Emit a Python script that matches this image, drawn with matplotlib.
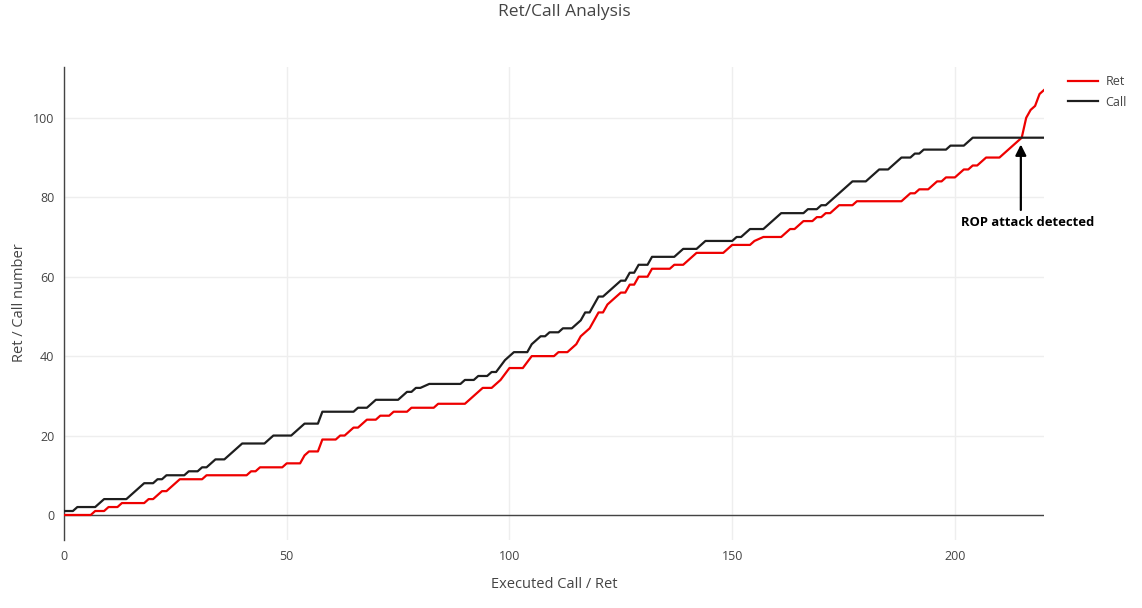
import matplotlib
matplotlib.use('Agg')
import matplotlib.pyplot as plt
from matplotlib.lines import Line2D

plt.rcParams['font.family'] = ['Open Sans', 'DejaVu Sans']

# ---- data (breakpoints of each series: executed call/ret index, count) ----
ret_x = [0, 6, 7, 9, 10, 12, 13, 18, 19, 20, 22, 23, 26, 31, 32, 41, 42, 43, 44, 49,
         50, 53, 54, 55, 57, 58, 61, 62, 63, 65, 66, 68, 70, 71, 73, 74, 77, 78, 83, 84,
         90, 94, 96, 98, 100, 103, 105, 110, 111, 113, 115, 116, 118, 120, 121, 122, 123,
         124, 125, 126, 127, 128, 129, 131, 132, 136, 137, 139, 142, 148, 150, 154, 155,
         157, 161, 163, 164, 166, 168, 169, 170, 171, 172, 174, 177, 178, 188, 190, 191,
         192, 194, 196, 197, 198, 200, 202, 203, 204, 205, 207, 210, 215, 216, 217, 218,
         219, 220]
ret_y = [0, 0, 1, 1, 2, 2, 3, 3, 4, 4, 6, 6, 9, 9, 10, 10, 11, 11, 12, 12,
         13, 13, 15, 16, 16, 19, 19, 20, 20, 22, 22, 24, 24, 25, 25, 26, 26, 27, 27, 28,
         28, 32, 32, 34, 37, 37, 40, 40, 41, 41, 43, 45, 47, 51, 51, 53, 54,
         55, 56, 56, 58, 58, 60, 60, 62, 62, 63, 63, 66, 66, 68, 68, 69,
         70, 70, 72, 72, 74, 74, 75, 75, 76, 76, 78, 78, 79, 79, 81, 81,
         82, 82, 84, 84, 85, 85, 87, 87, 88, 88, 90, 90, 95, 100, 102, 103,
         106, 107]

call_x = [0, 2, 3, 7, 9, 14, 18, 20, 21, 22, 23, 27, 28, 30, 31, 32, 34, 36, 40, 45,
          47, 51, 54, 57, 58, 65, 66, 68, 70, 75, 77, 78, 79, 80, 82, 89, 90, 92, 93, 95,
          96, 97, 99, 101, 104, 105, 107, 108, 109, 111, 112, 114, 116, 117, 118, 120,
          121, 123, 125, 126, 127, 128, 129, 131, 132, 137, 139, 142, 144, 150, 151, 152,
          154, 157, 161, 166, 167, 169, 170, 171, 177, 180, 183, 185, 188, 190, 191, 192,
          193, 198, 199, 202, 204, 220]
call_y = [1, 1, 2, 2, 4, 4, 8, 8, 9, 9, 10, 10, 11, 11, 12, 12, 14, 14, 18, 18,
          20, 20, 23, 23, 26, 26, 27, 27, 29, 29, 31, 31, 32, 32, 33, 33, 34, 34, 35, 35,
          36, 36, 39, 41, 41, 43, 45, 45, 46, 46, 47, 47, 49, 51, 51, 55,
          55, 57, 59, 59, 61, 61, 63, 63, 65, 65, 67, 67, 69, 69, 70, 70,
          72, 72, 76, 76, 77, 77, 78, 78, 84, 84, 87, 87, 90, 90, 91, 91,
          92, 92, 93, 93, 95, 95]

x_ticks = [0, 50, 100, 150, 200]
y_ticks = [0, 20, 40, 60, 80, 100]
series_names = ['Ret', 'Call']
attack_point = (214.8, 93.3)
attack_label = 'ROP attack detected'

# ---- figure ----
W, H = 1142, 608
fig = plt.figure(figsize=(W / 100, H / 100), dpi=100)
ax = fig.add_axes([64 / W, 1 - 540 / H, 980 / W, 473 / H])

ax.set_xlim(0, 220)
ax.set_ylim(-6.3, 112.8)
ax.set_xticks(x_ticks)
ax.set_yticks(y_ticks)
ax.grid(True, color='#eeeeee', lw=1)
ax.set_axisbelow(True)
for s in ['top', 'right', 'bottom']:
    ax.spines[s].set_visible(False)
ax.spines['left'].set_color('#444444')
ax.spines['left'].set_linewidth(1)
ax.axhline(0, color='#444444', lw=1, zorder=1.5)
ax.tick_params(length=0, pad=7, labelsize=9, labelcolor='#444444')

red = '#ee0000'
black = '#1e1e1e'
ax.plot(ret_x, ret_y, color=red, lw=1.6, solid_joinstyle='round', zorder=3)
ax.plot(call_x, call_y, color=black, lw=1.6, solid_joinstyle='round', zorder=3)

# annotation
ax.annotate('', xy=attack_point, xytext=(attack_point[0], 76.8),
            arrowprops=dict(arrowstyle='-|>', color='black', lw=1.6,
                            mutation_scale=16, shrinkA=0, shrinkB=0), zorder=5)
ax.text(216.4, 73.6, attack_label, ha='center', va='center', fontsize=9.4,
        fontweight='bold', color='black', zorder=5)

# titles
fig.text(564 / W, 1 - 12 / H, 'Ret/Call Analysis', ha='center', va='center',
         fontsize=12.5, color='#444444')
fig.text(554 / W, 1 - 585 / H, 'Executed Call / Ret', ha='center', va='center',
         fontsize=10.5, color='#444444')
fig.text(20 / W, 1 - 303 / H, 'Ret / Call number', ha='center', va='center',
         rotation=90, fontsize=10.5, color='#444444')

# legend
handles = [Line2D([], [], color=red, lw=1.6), Line2D([], [], color=black, lw=1.6)]
leg = fig.legend(handles, series_names, loc='upper left',
                 bbox_to_anchor=(1068 / W, 1 - 75 / H), frameon=False,
                 fontsize=9, handlelength=2.4, handletextpad=0.6,
                 labelspacing=0.6, borderaxespad=0, borderpad=0)
for t in leg.get_texts():
    t.set_color('#444444')

fig.savefig('out.png', dpi=100)
